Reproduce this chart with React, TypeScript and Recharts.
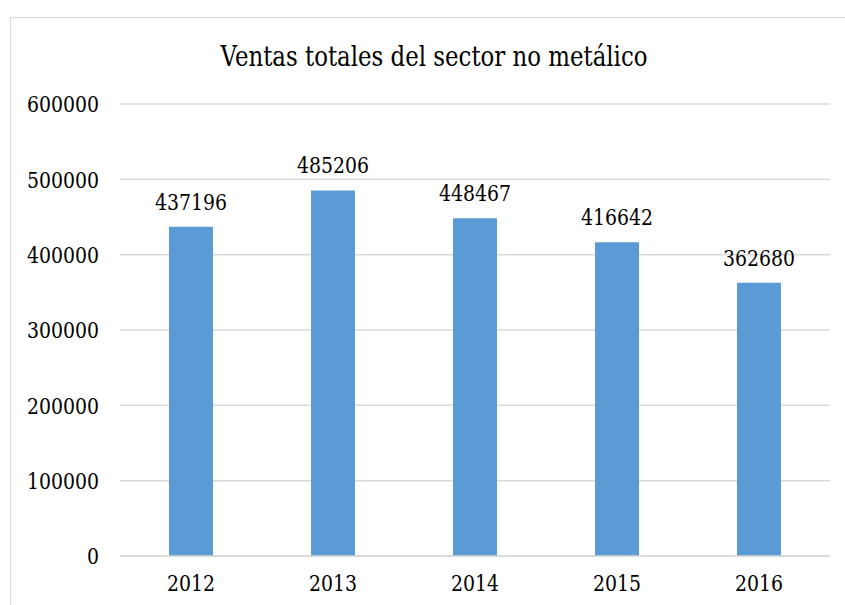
import { BarChart, Bar, XAxis, YAxis, CartesianGrid, LabelList } from "recharts";

const years = ["2012", "2013", "2014", "2015", "2016"];
const ventas = [437196, 485206, 448467, 416642, 362680];
const yTicks = [0, 100000, 200000, 300000, 400000, 500000, 600000];

const data = years.map((year, i) => ({ year, value: ventas[i] }));

const font = "'DejaVu Serif', serif";
const digitW = 12;

// serif glyphs squeezed to Times-like widths
function SerifText({ x, y, text, anchor, dy, size = 23 }: any) {
  const s = String(text);
  return (
    <text
      x={x}
      y={y}
      dy={dy}
      textAnchor={anchor}
      fill="#000"
      style={{ fontFamily: font, fontSize: size }}
      textLength={s.length * digitW}
      lengthAdjust="spacingAndGlyphs"
    >
      {s}
    </text>
  );
}

const YTick = (p: any) => (
  <SerifText x={p.x} y={p.y} dy="0.36em" anchor="end" text={p.payload.value} />
);

const XTick = (p: any) => (
  <SerifText x={p.x} y={p.y} dy="0.73em" anchor="middle" text={p.payload.value} />
);

const BarLabel = (p: any) => (
  <SerifText x={p.x + p.width / 2} y={p.y - 17} anchor="middle" text={p.value} />
);

export default function App() {
  return (
    <div
      style={{
        position: "fixed",
        left: 0,
        top: 0,
        width: 845,
        height: 605,
        overflow: "hidden",
        background: "#fff",
      }}
    >
      <div
        style={{
          position: "absolute",
          left: 10,
          top: 17,
          width: 900,
          height: 700,
          border: "1.5px solid #d9d9d9",
        }}
      />
      <svg
        width={845}
        height={100}
        style={{ position: "absolute", left: 0, top: 0 }}
      >
        <text
          x={434}
          y={66}
          textAnchor="middle"
          style={{ fontFamily: font, fontSize: 28 }}
          textLength={427}
          lengthAdjust="spacingAndGlyphs"
          fill="#000"
        >
          Ventas totales del sector no metálico
        </text>
      </svg>
      <div style={{ position: "absolute", left: 0, top: 0 }}>
        <BarChart
          width={845}
          height={605}
          data={data}
          margin={{ top: 104, right: 15, bottom: 19, left: 0 }}
        >
          <CartesianGrid vertical={false} stroke="#d9d9d9" strokeWidth={1.5} />
          <XAxis
            dataKey="year"
            height={30}
            axisLine={{ stroke: "#d9d9d9", strokeWidth: 1.5 }}
            tickLine={false}
            tickSize={0}
            tickMargin={18}
            tick={<XTick />}
          />
          <YAxis
            width={120}
            domain={[0, 600000]}
            ticks={yTicks}
            axisLine={false}
            tickLine={false}
            tickSize={0}
            tickMargin={21}
            tick={<YTick />}
          />
          <Bar dataKey="value" fill="#5b9bd5" barSize={44} isAnimationActive={false}>
            <LabelList dataKey="value" content={<BarLabel />} />
          </Bar>
        </BarChart>
      </div>
    </div>
  );
}
